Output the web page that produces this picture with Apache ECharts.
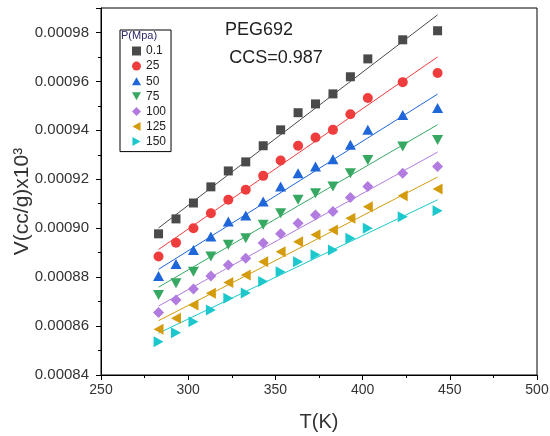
<!DOCTYPE html>
<html>
<head>
<meta charset="utf-8">
<script src="https://cdn.jsdelivr.net/npm/echarts@6/dist/echarts.min.js"></script>
<style>
html,body{margin:0;padding:0;background:#fff;}
#chart{width:550px;height:436px;}
</style>
</head>
<body>
<div id="chart"></div>
<script>
// ---- data ----
const temps = [283, 293, 303, 313, 323, 333, 343, 353, 363, 373, 383, 393, 403, 423, 443];
const pressures = ['0.1', '25', '50', '75', '100', '125', '150'];
const v01  = [0.0008977, 0.0009038, 0.0009103, 0.0009169, 0.0009234, 0.0009271, 0.0009337, 0.0009402, 0.0009472, 0.0009508, 0.0009549, 0.0009619, 0.0009692, 0.0009770, 0.0009807];
const v25  = [0.0008884, 0.0008941, 0.0009000, 0.0009061, 0.0009116, 0.0009157, 0.0009214, 0.0009277, 0.0009337, 0.0009371, 0.0009402, 0.0009466, 0.0009532, 0.0009597, 0.0009634];
const v50  = [0.0008805, 0.0008854, 0.0008911, 0.0008966, 0.0009027, 0.0009052, 0.0009109, 0.0009170, 0.0009225, 0.0009252, 0.0009282, 0.0009341, 0.0009402, 0.0009463, 0.0009491];
const v75  = [0.0008727, 0.0008775, 0.0008822, 0.0008884, 0.0008932, 0.0008959, 0.0009014, 0.0009061, 0.0009116, 0.0009143, 0.0009170, 0.0009225, 0.0009279, 0.0009334, 0.0009361];
const v100 = [0.0008655, 0.0008707, 0.0008752, 0.0008805, 0.0008850, 0.0008877, 0.0008939, 0.0008977, 0.0009020, 0.0009054, 0.0009068, 0.0009125, 0.0009170, 0.0009225, 0.0009252];
const v125 = [0.0008587, 0.0008632, 0.0008686, 0.0008734, 0.0008778, 0.0008809, 0.0008863, 0.0008904, 0.0008945, 0.0008973, 0.0008993, 0.0009041, 0.0009088, 0.0009133, 0.0009160];
const v150 = [0.0008536, 0.0008573, 0.0008618, 0.0008666, 0.0008714, 0.0008735, 0.0008782, 0.0008822, 0.0008863, 0.0008891, 0.0008911, 0.0008959, 0.0009000, 0.0009047, 0.0009071];
// linear-fit line end points
const fitT   = [283, 443];
const fit01  = [0.0009001, 0.0009872];
const fit25  = [0.0008913, 0.0009700];
const fit50  = [0.0008832, 0.0009548];
const fit75  = [0.0008759, 0.0009423];
const fit100 = [0.0008682, 0.0009311];
const fit125 = [0.0008622, 0.0009209];
const fit150 = [0.0008571, 0.0009116];
const xTicks = [250, 300, 350, 400, 450, 500];
const yTicks = [0.00084, 0.00086, 0.00088, 0.00090, 0.00092, 0.00094, 0.00096, 0.00098];

const values = [v01, v25, v50, v75, v100, v125, v150];
const fits = [fit01, fit25, fit50, fit75, fit100, fit125, fit150];
const colors = ['#4a4a4a', '#ef3d3d', '#1f66d8', '#36a862', '#b27be0', '#d49b0c', '#1cc8cc'];
const symbols = [
  'rect',
  'circle',
  'path://M5,0L10,9L0,9Z',
  'path://M0,0L10,0L5,9Z',
  'diamond',
  'path://M10,0L10,10L1,5Z',
  'path://M0,0L0,10L9,5Z'
];
const sizes = [9, 10, [11, 10], [11, 10], 11, [10, 11], [10, 11]];

const series = [];
values.forEach((vals, i) => {
  series.push({
    name: 'fit' + i,
    type: 'line',
    data: fitT.map((t, k) => [t, fits[i][k]]),
    showSymbol: false,
    symbol: 'none',
    lineStyle: { color: colors[i], width: 1 },
    itemStyle: { color: colors[i] },
    silent: true,
    z: 1
  });
});
values.forEach((vals, i) => {
  series.push({
    name: pressures[i],
    type: 'scatter',
    data: temps.map((t, k) => [t, vals[k]]),
    symbol: symbols[i],
    symbolSize: sizes[i],
    itemStyle: { color: colors[i], opacity: 1 },
    z: 3
  });
});

const chart = echarts.init(document.getElementById('chart'), null, { renderer: 'canvas' });
const axisFont = 'Liberation Sans, Arial, sans-serif';
chart.setOption({
  animation: false,
  backgroundColor: '#fff',
  grid: { left: 101, right: 13, top: 8, bottom: 61, show: true, borderColor: '#000', borderWidth: 1, outerBoundsMode: 'none', containLabel: false },
  xAxis: {
    type: 'value', min: xTicks[0], max: xTicks[xTicks.length - 1], interval: 50,
    name: 'T(K)', nameLocation: 'middle', nameGap: 37, nameMoveOverlap: false,
    nameTextStyle: { fontFamily: axisFont, fontSize: 20, color: '#333' },
    axisLine: { lineStyle: { color: '#000', width: 1 } },
    axisTick: { show: true, length: 5, lineStyle: { color: '#000' } },
    minorTick: { show: true, splitNumber: 2, length: 3, lineStyle: { color: '#000' } },
    axisLabel: { fontFamily: axisFont, fontSize: 14, color: '#333', margin: 8 },
    splitLine: { show: false }
  },
  yAxis: {
    type: 'value', min: yTicks[0], max: 0.00099, interval: 0.00002,
    name: 'V(cc/g)x10³', nameLocation: 'middle', nameGap: 68, nameMoveOverlap: false,
    nameTextStyle: { fontFamily: axisFont, fontSize: 21, color: '#333', padding: [0, 20, 0, 0] },
    axisLine: { lineStyle: { color: '#000', width: 1 } },
    axisTick: { show: true, length: 5, lineStyle: { color: '#000' } },
    minorTick: { show: true, splitNumber: 2, length: 3, lineStyle: { color: '#000' } },
    axisLabel: {
      fontFamily: axisFont, fontSize: 15, color: '#333', margin: 12, showMaxLabel: false,
      formatter: v => (yTicks.some(t => Math.abs(t - v) < 1e-9) ? v.toFixed(5) : '')
    },
    splitLine: { show: false }
  },
  legend: {
    data: pressures.map((p, i) => ({ name: p, icon: symbols[i] })),
    orient: 'vertical',
    left: 120, top: 30,
    padding: [15, 5, 4, 12],
    itemWidth: 9, itemHeight: 9, itemGap: 3.1,
    borderColor: '#000', borderWidth: 1,
    textStyle: { fontFamily: axisFont, fontSize: 12, color: '#222' },
    selectedMode: false
  },
  graphic: [
    { type: 'text', left: 121, top: 30, z: 100, style: { text: 'P(Mpa)', font: '11px Liberation Sans, Arial, sans-serif', fill: '#2a2a66' } },
    { type: 'text', x: 259, y: 30, z: 100, style: { text: 'PEG692', font: '18px Liberation Sans, Arial, sans-serif', fill: '#222', align: 'center', verticalAlign: 'middle' } },
    { type: 'text', x: 276, y: 58, z: 100, style: { text: 'CCS=0.987', font: '18px Liberation Sans, Arial, sans-serif', fill: '#222', align: 'center', verticalAlign: 'middle' } }
  ],
  series: series
});
</script>
</body>
</html>
